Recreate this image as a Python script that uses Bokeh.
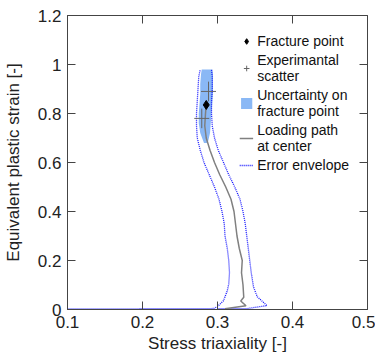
from bokeh.plotting import figure
from bokeh.models import LinearAxis, Legend, LegendItem, FixedTicker, Range1d, CustomJSTickFormatter
from bokeh.embed import file_html
from bokeh.resources import INLINE

# Loading path at centre (gray)
path_x = [0.310, 0.338, 0.331, 0.335, 0.334, 0.332, 0.333, 0.329, 0.326, 0.324, 0.322, 0.318, 0.311, 0.303, 0.296, 0.290, 0.285, 0.283, 0.284, 0.285]
path_y = [0.003, 0.015, 0.035, 0.050, 0.100, 0.150, 0.200, 0.250, 0.300, 0.350, 0.400, 0.450, 0.500, 0.550, 0.600, 0.650, 0.700, 0.750, 0.800, 0.835]

# Error envelope (dotted blue): left and right bounds
env_left_x = [0.100, 0.200, 0.295, 0.300, 0.308, 0.313, 0.315, 0.316, 0.315, 0.313, 0.310, 0.309, 0.306, 0.302, 0.296, 0.289, 0.282, 0.277, 0.273, 0.272, 0.272, 0.273, 0.274, 0.275, 0.277]
env_left_y = [0.002, 0.003, 0.004, 0.012, 0.036, 0.076, 0.104, 0.150, 0.200, 0.250, 0.300, 0.350, 0.400, 0.450, 0.500, 0.550, 0.600, 0.650, 0.700, 0.750, 0.800, 0.850, 0.900, 0.950, 0.980]
env_right_x = [0.300, 0.340, 0.366, 0.353, 0.348, 0.345, 0.343, 0.341, 0.339, 0.337, 0.334, 0.330, 0.323, 0.315, 0.308, 0.301, 0.296, 0.293, 0.292, 0.292, 0.293, 0.293, 0.292]
env_right_y = [0.003, 0.004, 0.016, 0.052, 0.092, 0.150, 0.200, 0.250, 0.300, 0.350, 0.400, 0.450, 0.500, 0.550, 0.600, 0.650, 0.700, 0.750, 0.800, 0.850, 0.900, 0.950, 0.980]

# Uncertainty band on fracture point
band_y = [0.68, 0.72, 0.76, 0.80, 0.84, 0.88, 0.92, 0.96, 0.98]
band_left = [0.282, 0.277, 0.275, 0.275, 0.276, 0.277, 0.277, 0.278, 0.279]
band_right = [0.287, 0.290, 0.291, 0.292, 0.293, 0.294, 0.294, 0.294, 0.293]

# Fracture point
frac_x = [0.285]
frac_y = [0.835]

# Experimental scatter (crosses)
exp_x = [0.279, 0.288]
exp_y = [0.780, 0.890]
exp_dx = [0.010, 0.010]
exp_dy = [0.040, 0.040]

x_ticks = [0.1, 0.2, 0.3, 0.4, 0.5]
y_ticks = [0, 0.2, 0.4, 0.6, 0.8, 1.0, 1.2]
y_labels = {0: "0", 0.2: "0.2", 0.4: "0.4", 0.6: "0.6", 0.8: "0.8", 1.0: "1", 1.2: "1.2"}

FONT = "Liberation Sans"
AX = "#444444"

p = figure(width=375, height=355, output_backend="svg", toolbar_location=None,
           x_range=Range1d(0.1, 0.5), y_range=Range1d(0, 1.2),
           min_border_left=66, min_border_right=8, min_border_top=15, min_border_bottom=40)
p.grid.visible = False
p.outline_line_color = AX
p.outline_line_width = 1
p.background_fill_color = "white"

band = p.harea(y=band_y, x1=band_left, x2=band_right, fill_color="#8ab8f5", fill_alpha=1.0)
envl = p.line(env_left_x, env_left_y, line_color="#1a1aff", line_dash="1 1", line_width=1.3)
envr = p.line(env_right_x, env_right_y, line_color="#1a1aff", line_dash="1 1", line_width=1.3)
path = p.line(path_x, path_y, line_color="#808080", line_width=1.5)

x0 = [a - d for a, d in zip(exp_x, exp_dx)]
x1 = [a + d for a, d in zip(exp_x, exp_dx)]
y0 = [a - d for a, d in zip(exp_y, exp_dy)]
y1 = [a + d for a, d in zip(exp_y, exp_dy)]
p.segment(x0=x0, y0=exp_y, x1=x1, y1=exp_y, line_color="#666666", line_width=1)
p.segment(x0=exp_x, y0=y0, x1=exp_x, y1=y1, line_color="#666666", line_width=1)
frac = p.scatter(frac_x, frac_y, marker="diamond", size=9, fill_color="black", line_color="black")

# legend proxies
leg_cross = p.scatter(exp_x, exp_y, marker="cross", size=20, line_color="#666666", line_width=1, visible=False)
leg_frac = p.scatter(frac_x, frac_y, marker="diamond", size=14, fill_color="black", line_color="black", visible=False)

legend = Legend(items=[
    LegendItem(label="Fracture point", renderers=[leg_frac]),
    LegendItem(label="Experimantal\nscatter", renderers=[leg_cross]),
    LegendItem(label="Uncertainty on\nfracture point", renderers=[band]),
    LegendItem(label="Loading path\nat center", renderers=[path]),
    LegendItem(label="Error envelope", renderers=[envl]),
], location="top_right")
legend.border_line_color = None
legend.background_fill_alpha = 0
legend.label_text_font = FONT
legend.label_text_font_size = "14px"
legend.label_text_line_height = 1.0
legend.label_text_color = "#111111"
legend.glyph_width = 14
legend.glyph_height = 14
legend.label_standoff = 4
legend.spacing = 3
legend.padding = 6
legend.margin = 18
p.add_layout(legend)

for ax in p.xaxis + p.yaxis:
    ax.axis_line_color = AX
    ax.major_tick_line_color = AX
    ax.major_tick_in = 8
    ax.major_tick_out = 0
    ax.minor_tick_line_color = None
    ax.major_label_text_font = FONT
    ax.major_label_text_font_size = "17px"
    ax.major_label_text_color = "#222222"
    ax.axis_label_text_font = FONT
    ax.axis_label_text_font_size = "17px"
    ax.axis_label_text_font_style = "normal"
    ax.axis_label_text_color = "#222222"

p.xaxis.ticker = FixedTicker(ticks=x_ticks)
p.yaxis.ticker = FixedTicker(ticks=y_ticks)
p.yaxis.major_label_overrides = y_labels
p.xaxis.axis_label = "Stress triaxiality [-]"
p.yaxis.axis_label = "Equivalent plastic strain [-]"
p.xaxis.major_label_standoff = 6
p.xaxis.axis_label_standoff = 3
p.yaxis.major_label_standoff = 6
p.yaxis.axis_label_standoff = 12

blank = CustomJSTickFormatter(code="return ''")
top = LinearAxis(ticker=FixedTicker(ticks=x_ticks), formatter=blank,
                 axis_line_color=None, major_tick_in=8, major_tick_out=0,
                 major_tick_line_color=AX, minor_tick_line_color=None, major_label_standoff=0)
right = LinearAxis(ticker=FixedTicker(ticks=y_ticks), formatter=blank,
                   axis_line_color=None, major_tick_in=8, major_tick_out=0,
                   major_tick_line_color=AX, minor_tick_line_color=None, major_label_standoff=0)
p.add_layout(top, "above")
p.add_layout(right, "right")

open("out.html", "w").write(file_html(p, INLINE))
